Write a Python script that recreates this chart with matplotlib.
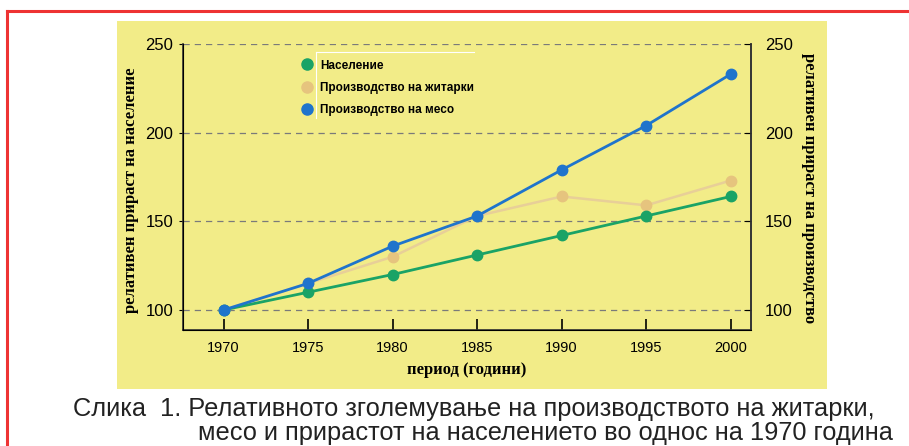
import matplotlib
matplotlib.use('Agg')
import matplotlib.pyplot as plt
from matplotlib.lines import Line2D
from matplotlib.patches import Rectangle

years = [1970, 1975, 1980, 1985, 1990, 1995, 2000]
naselenie = [100, 110, 120, 131, 142, 153, 164]
zitarki = [100, 115, 130, 153, 164, 159, 173]
meso = [100, 115, 136, 153, 179, 204, 233]
yticks = [100, 150, 200, 250]
legend_labels = ['Население', 'Производство на житарки', 'Производство на месо']

green = '#1aa366'
tan = '#e6c47e'
tan_line = '#e8cf98'
blue = '#1f74cc'
yellow = '#f2ec88'

plt.rcParams['font.family'] = ['Liberation Sans', 'DejaVu Sans']

fig = plt.figure(figsize=(9.09, 4.46), dpi=100)
W, H = 909, 446

# red frame (top and left)
fig.add_artist(Line2D([7 / W, 1], [1 - 11 / H, 1 - 11 / H], color='#ee3333', lw=2.2))
fig.add_artist(Line2D([7 / W, 7 / W], [0, 1 - 11 / H], color='#ee3333', lw=2.2))

# yellow panel
fig.add_artist(Rectangle((117 / W, 1 - 389 / H), 710 / W, 368 / H,
                         facecolor=yellow, edgecolor='none', zorder=0))

ax = fig.add_axes([183 / W, 1 - 330 / H, (751 - 183) / W, (330 - 44) / H])
ax.set_facecolor('none')
ax.set_xlim(1967.6, 2001.2)
ax.set_ylim(88.7, 250)

for y in yticks:
    ax.axhline(y, color='#7a7a7a', lw=0.9, dashes=(5, 4), zorder=1)

ax.plot(years, zitarki, color=tan_line, lw=1.8, zorder=2)
ax.plot(years, zitarki, 'o', color=tan, ms=7.5, zorder=3)
ax.plot(years, naselenie, color=green, lw=2, marker='o', ms=7.5, zorder=4)
ax.plot(years, meso, color=blue, lw=2, marker='o', ms=7.5, zorder=5)

ax.set_xticks(years)
ax.set_yticks(yticks)
ax.tick_params(axis='x', direction='in', length=8, width=1.2, labelsize=10.5, pad=8)
ax.tick_params(axis='y', direction='out', length=3, labelsize=12, pad=4)
ax.spines['top'].set_visible(False)
for s in ['left', 'right', 'bottom']:
    ax.spines[s].set_color('#333333')
    ax.spines[s].set_linewidth(1.2)

ax2 = ax.twinx()
ax2.set_ylim(ax.get_ylim())
ax2.set_yticks(yticks)
ax2.tick_params(axis='y', direction='in', length=5, labelsize=12, pad=10)
ax2.spines['top'].set_visible(False)
ax2.spines['right'].set_color('#333333')
ax2.spines['right'].set_linewidth(1.2)

serif = dict(family=['Liberation Serif', 'DejaVu Serif'], fontweight='bold', fontsize=12)
fig.text(131 / W, 1 - 190 / H, 'релативен прираст на население', rotation=90,
         ha='center', va='center', **serif)
fig.text(809 / W, 1 - 188 / H, 'релативен прираст на производство', rotation=-90,
         ha='center', va='center', **serif)
fig.text(467 / W, 1 - 370 / H, 'период (години)', ha='center', va='center', **serif)

# legend
handles = [Line2D([], [], ls='none', marker='o', ms=8, color=c) for c in (green, tan, blue)]
fig.legend(handles, legend_labels, loc='upper left', bbox_to_anchor=(292 / W, 1 - 49 / H),
           frameon=False, handlelength=0.8, handletextpad=0.7, labelspacing=0.85,
           prop=dict(family=['Liberation Sans'], weight='bold', size=8.5))
fig.add_artist(Line2D([316 / W, 316 / W], [1 - 52 / H, 1 - 118 / H], color='white', lw=0.8))
fig.add_artist(Line2D([316 / W, 474 / W], [1 - 52 / H, 1 - 52 / H], color='white', lw=0.8))

# caption
fig.text(73 / W, 1 - 409 / H, 'Слика  1. Релативното зголемување на производството на житарки,',
         ha='left', va='center', fontsize=18.3, color='#222222')
fig.text(893 / W, 1 - 433 / H, 'месо и прирастот на населението во однос на 1970 година',
         ha='right', va='center', fontsize=18.3, color='#222222')

fig.savefig('out.png', dpi=100)
